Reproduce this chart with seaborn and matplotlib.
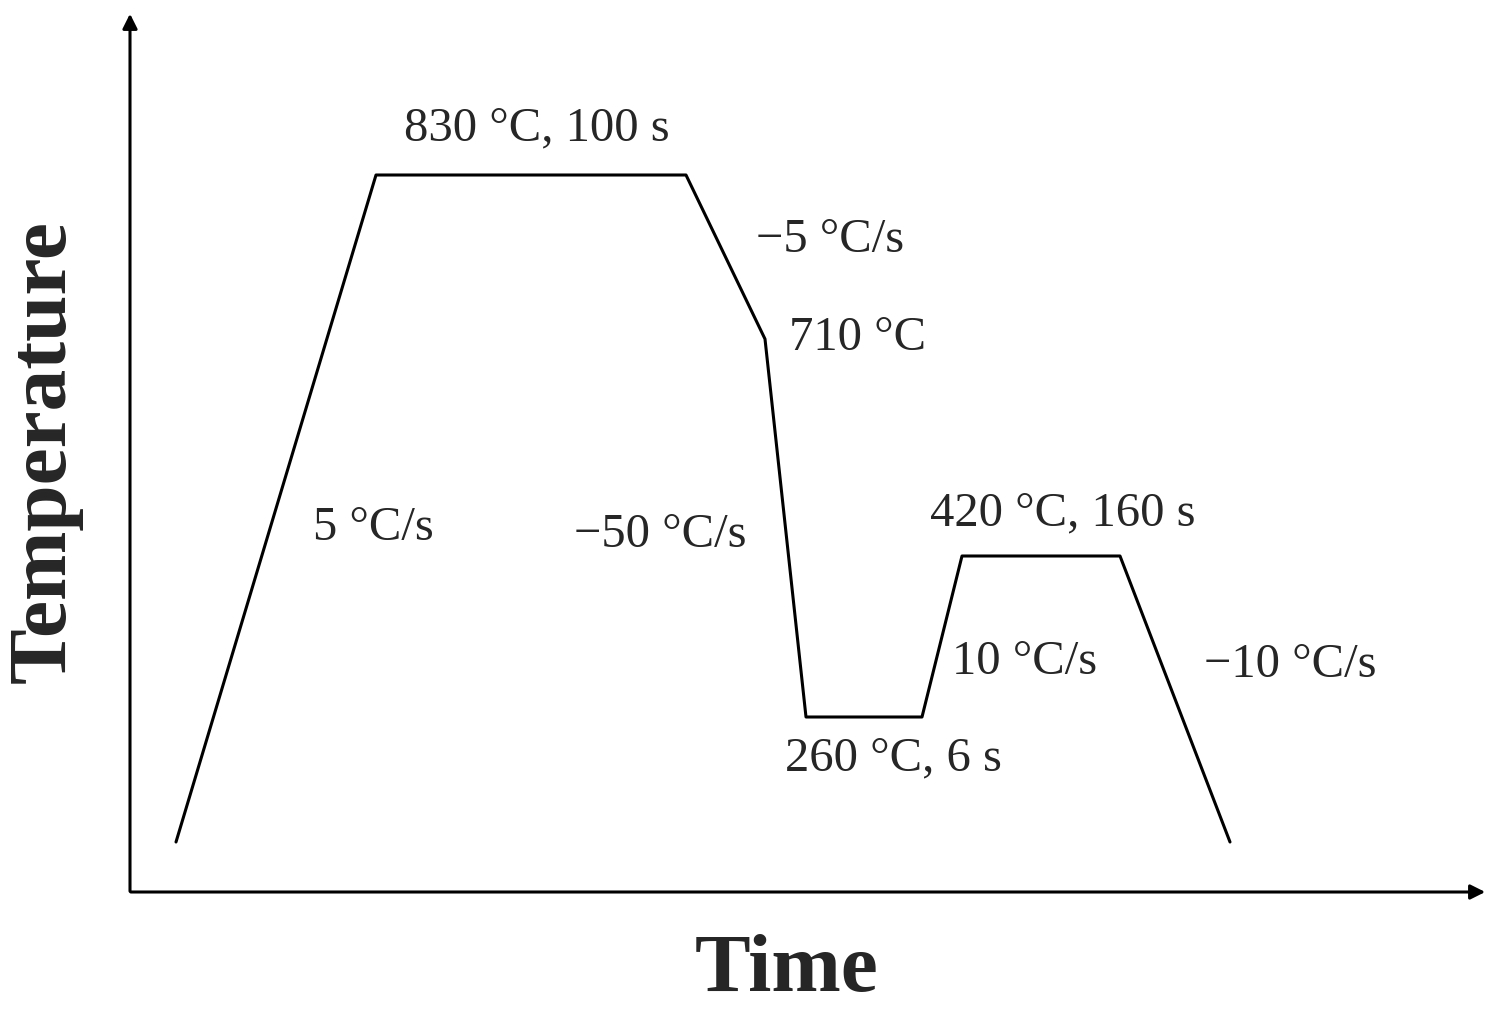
import matplotlib
matplotlib.use("Agg")
import matplotlib.pyplot as plt
import seaborn as sns
import pandas as pd

# schematic heat-treatment path (pixel-like units)
time_pts = [176, 376, 686, 765, 806, 922, 962, 1120, 1230]
temp_pts = [843, 176, 176, 340, 718, 718, 557, 557, 843]

labels = ["830 °C, 100 s", "−5 °C/s", "710 °C", "5 °C/s", "−50 °C/s",
          "420 °C, 160 s", "10 °C/s", "−10 °C/s", "260 °C, 6 s"]
label_x = [537, 830, 858, 373, 660, 1063, 1025, 1290, 893]
label_y = [128, 240, 338, 528, 535, 513, 662, 665, 758]

sns.set_style("white")
plt.rcParams['font.family'] = ['Liberation Serif', 'DejaVu Serif']

df = pd.DataFrame({"t": time_pts, "T": temp_pts})

fig = plt.figure(figsize=(14.95, 10.12), dpi=100)
ax = fig.add_axes([0, 0, 1, 1])
sns.lineplot(data=df, x="t", y="T", sort=False, color="black", linewidth=2.2, ax=ax)
ax.set_xlim(0, 1495)
ax.set_ylim(1012, 0)
ax.axis("off")

# axes arrows
ax.annotate("", xy=(1488, 893), xytext=(128, 893),
            arrowprops=dict(arrowstyle="-|>", color="black", lw=2.2, mutation_scale=22))
ax.annotate("", xy=(130, 12), xytext=(130, 895),
            arrowprops=dict(arrowstyle="-|>", color="black", lw=2.2, mutation_scale=22))

for s, x, y in zip(labels, label_x, label_y):
    ax.text(x, y, s, fontsize=35, ha="center", va="center")

ax.text(787, 972, "Time", fontsize=60, fontweight="bold", ha="center", va="center")
ax.text(45, 452, "Temperature", fontsize=60, fontweight="bold", ha="center",
        va="center", rotation=90)

fig.savefig("out.png", dpi=100)
